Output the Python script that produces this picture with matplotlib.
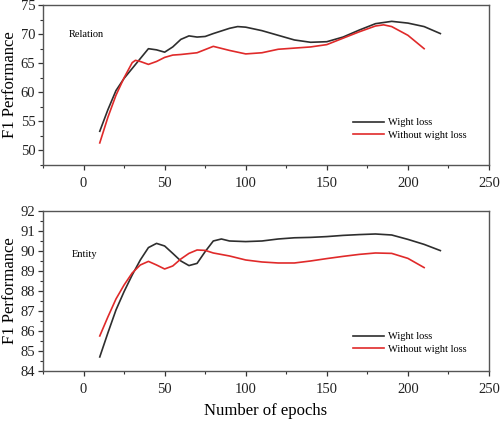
import numpy as np
import matplotlib.pyplot as plt
from matplotlib.ticker import MultipleLocator

plt.rcParams['font.family'] = ['Liberation Serif', 'DejaVu Serif']

# Relation panel
rel_x_w = [10, 15, 20, 25, 30, 35, 40, 45, 50, 55, 60, 65, 70, 75, 80, 90, 95, 100,
           110, 120, 130, 140, 150, 160, 170, 180, 190, 200, 210, 220]
rel_w = [53.3, 57.0, 60.3, 62.4, 64.1, 65.8, 67.5, 67.3, 66.9, 67.8, 69.1, 69.7, 69.5, 69.6,
         70.1, 71.0, 71.3, 71.2, 70.6, 69.8, 69.0, 68.6, 68.7, 69.5, 70.7, 71.8, 72.2, 71.9,
         71.3, 70.1]
rel_x_n = [10, 15, 20, 25, 30, 32, 35, 40, 45, 50, 55, 60, 70, 80, 90, 100, 110, 120, 130,
           140, 150, 160, 170, 180, 185, 190, 200, 210]
rel_n = [51.3, 55.7, 59.5, 62.5, 65.1, 65.5, 65.3, 64.8, 65.3, 66.0, 66.4, 66.5, 66.8, 67.9,
         67.2, 66.6, 66.8, 67.4, 67.6, 67.8, 68.2, 69.3, 70.4, 71.4, 71.6, 71.3, 69.8, 67.5]

# Entity panel
ent_x_w = [10, 15, 20, 25, 30, 35, 40, 45, 50, 55, 60, 65, 70, 75, 80, 85, 90, 100, 110,
           120, 130, 140, 150, 160, 170, 180, 190, 200, 210, 220]
ent_w = [84.7, 85.9, 87.05, 87.97, 88.8, 89.55, 90.17, 90.38, 90.25, 89.88, 89.5, 89.27,
         89.38, 89.97, 90.5, 90.6, 90.5, 90.47, 90.5, 90.6, 90.66, 90.68, 90.72, 90.78, 90.82,
         90.85, 90.8, 90.58, 90.33, 90.02]
ent_x_n = [10, 15, 20, 25, 30, 35, 40, 45, 50, 55, 60, 65, 70, 75, 80, 90, 100, 110, 120,
           130, 140, 150, 160, 170, 180, 190, 200, 210]
ent_n = [85.75, 86.7, 87.6, 88.3, 88.9, 89.3, 89.48, 89.3, 89.1, 89.25, 89.6, 89.88, 90.05,
         90.03, 89.9, 89.75, 89.55, 89.45, 89.4, 89.4, 89.5, 89.62, 89.73, 89.83, 89.9, 89.88,
         89.63, 89.17]

c_w = '#2e2e2e'
c_n = '#e02a2a'

fig = plt.figure(figsize=(5, 4.22), dpi=100)
ax1 = fig.add_axes([0.086, 0.609, 0.892, 0.379])
ax2 = fig.add_axes([0.086, 0.121, 0.892, 0.379])


def style(ax, ylim, ymaj, ymin):
    ax.set_xlim(-25, 250)
    ax.set_ylim(*ylim)
    ax.xaxis.set_major_locator(MultipleLocator(50))
    ax.xaxis.set_minor_locator(MultipleLocator(25))
    ax.yaxis.set_major_locator(MultipleLocator(ymaj))
    ax.yaxis.set_minor_locator(MultipleLocator(ymin))
    ax.tick_params(which='major', direction='out', length=3.5, width=0.9, pad=2,
                   labelsize=10.5, colors='#333333', labelcolor='#222222')
    ax.tick_params(which='minor', direction='out', length=2, width=0.8, colors='#333333')
    ax.tick_params(axis='x', which='major', pad=5)
    for s in ax.spines.values():
        s.set_color('#555555')
        s.set_linewidth(1.0)
    ax.set_ylabel('F1 Performance', fontsize=12)
    ax.yaxis.set_label_coords(-0.056, 0.5)


ax1.plot(rel_x_w, rel_w, color=c_w, lw=1.2, label='Wight loss')
ax1.plot(rel_x_n, rel_n, color=c_n, lw=1.2, label='Without wight loss')
style(ax1, (47.5, 75), 5, 2.5)
ax1.text(-9, 70, 'Relation', fontsize=7.5, va='center')
ax1.legend(loc='lower right', bbox_to_anchor=(0.97, 0.1), frameon=False, fontsize=7.5,
           handlelength=3, handletextpad=0.3, labelspacing=0.3)

ax2.plot(ent_x_w, ent_w, color=c_w, lw=1.2, label='Wight loss')
ax2.plot(ent_x_n, ent_n, color=c_n, lw=1.2, label='Without wight loss')
style(ax2, (84, 92), 1, 0.5)
ax2.text(-7, 89.8, 'Entity', fontsize=7.5, va='center')
ax2.legend(loc='lower right', bbox_to_anchor=(0.97, 0.05), frameon=False, fontsize=7.5,
           handlelength=3, handletextpad=0.3, labelspacing=0.3)
ax2.set_xlabel('Number of epochs', fontsize=12)
ax2.xaxis.set_label_coords(0.5, -0.2)

fig.savefig('out.png', dpi=100)
